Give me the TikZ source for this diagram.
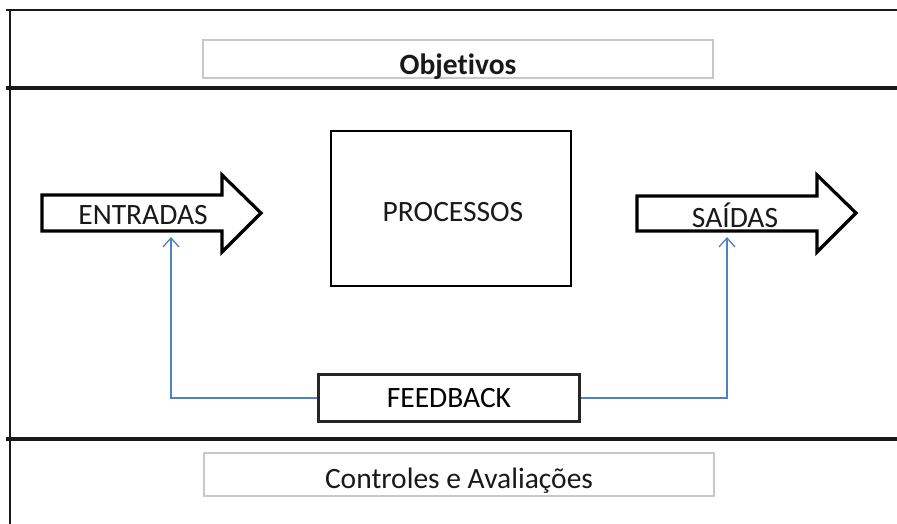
\documentclass[tikz,border=0pt]{standalone}
\usepackage{fontspec}
\setmainfont[Ligatures=NoCommon]{Carlito}
\usetikzlibrary{arrows.meta}
\definecolor{fbblue}{HTML}{4F81BD}
\definecolor{lightbox}{HTML}{C8C8C8}
\tikzset{
  frameline/.style={line width=2pt, black!90},
  thickline/.style={line width=3.5pt, black!90},
  titlebox/.style={draw=lightbox, line width=1.5pt},
  blockarrow/.style={draw=black, line width=3.2pt, line join=miter, fill=white},
  lbl/.style={font=\fontsize{29.5}{32}\selectfont, inner sep=0pt, text=black!90},
  procbox/.style={draw=black, line width=2.8pt},
  fbbox/.style={draw=black!85, line width=2.2pt, fill=white, minimum width=261pt, minimum height=47pt, inner sep=0pt, font=\fontsize{29.5}{32}\selectfont},
  fbline/.style={draw=fbblue, line width=1.6pt, -{Straight Barb[length=9pt,width=16pt,line width=1.3pt]}},
}
\begin{document}
\begin{tikzpicture}[x=1pt,y=-1pt]
\useasboundingbox (0,0) rectangle (897,524);
% frame
\draw[frameline] (6,10) -- (897,10);
\draw[frameline] (10,10) -- (10,524);
\draw[thickline] (6,88) -- (897,88);
\draw[thickline] (6,439) -- (897,439);
% Objetivos
\draw[titlebox] (203,40) rectangle (713,78);
\node[lbl, font=\fontsize{29.5}{32}\selectfont\bfseries] (obj) at (458,67) {Objetivos};
% Controles
\draw[titlebox] (204,453) rectangle (714,496);
\node[lbl] (ctrl) at (459,481) {Controles e Avaliações};
% Processos
\draw[procbox] (331,131) rectangle (571,286);
\node[lbl] (proc) at (453,212) {PROCESSOS};
% Entradas arrow
\draw[blockarrow] (42,195) -- (222,195) -- (222,175) -- (261,213) -- (222,252) -- (222,231) -- (42,231) -- cycle;
\node[lbl] (ent) at (143,215) {ENTRADAS};
\coordinate (entin) at (171,237);
% Saidas arrow
\draw[blockarrow] (637,196) -- (817,196) -- (817,175) -- (856,213) -- (817,252) -- (817,231) -- (637,231) -- cycle;
\node[lbl] (sai) at (735,215) {SAÍDAS};
\coordinate (saiin) at (727,237);
% Feedback
\node[fbbox] (fb) at (449,398) {FEEDBACK};
\draw[fbline] (fb.west) -| (entin);
\draw[fbline] (fb.east) -| (saiin);
\end{tikzpicture}
\end{document}
